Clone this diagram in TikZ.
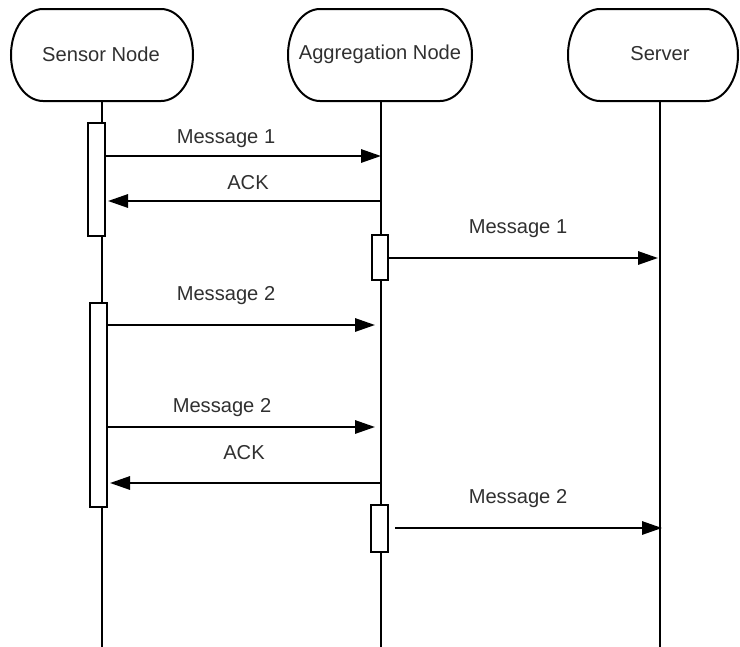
\documentclass[tikz,border=0pt]{standalone}
\usepackage{fontspec}
\setmainfont{Liberation Sans}
\usetikzlibrary{arrows.meta}
\definecolor{labelgray}{HTML}{303030}
% outline of a lifeline head: flat top and bottom, half-ellipse ends
\newcommand\headbox[2]{%
  \draw[headline] (#1+32,-9) -- (#2-32,-9)
    arc[start angle=90,end angle=-90,x radius=32,y radius=46]
    -- (#1+32,-101)
    arc[start angle=270,end angle=90,x radius=32,y radius=46] -- cycle;}
\begin{document}
\begin{tikzpicture}[x=0.75pt,y=0.75pt,
  every node/.style={font=\fontsize{15.1}{18}\selectfont,text=labelgray},
  headline/.style={line width=1.5pt,black},
  lifeline/.style={line width=1.5pt,black},
  actbox/.style={draw=black,line width=1.5pt,fill=white,inner sep=0pt,
    minimum width=12.75pt},
  msg/.style={line width=1.5pt,black,-{Triangle[length=15pt,width=10pt]}},
  msglabel/.style={inner sep=0pt}]
\useasboundingbox (0,0) rectangle (740,-647);

% lifeline heads
\headbox{11}{193}
\headbox{288}{472}
\headbox{568}{738}
\node (sensor) at (101,-54) {Sensor Node};
\node (agg) at (380,-54) {Aggregation Node};
\node (server) at (660,-54) {Server};

% lifelines
\coordinate (sensorTop) at (102,-101);
\coordinate (sensorEnd) at (102,-647);
\coordinate (aggTop) at (381,-101);
\coordinate (aggEnd) at (381,-647);
\coordinate (serverTop) at (660,-101);
\coordinate (serverEnd) at (660,-647);
\draw[lifeline] (sensorTop) -- (sensorEnd);
\draw[lifeline] (aggTop) -- (aggEnd);
\draw[lifeline] (serverTop) -- (serverEnd);

% activation bars
\node[actbox,minimum height=84.75pt] (act1) at (96.5,-179.5) {};
\node[actbox,minimum height=33.75pt,minimum width=12pt] (act2) at (380,-257.5) {};
\node[actbox,minimum height=153pt] (act3) at (98.5,-405) {};
\node[actbox,minimum height=35.25pt] (act4) at (379.5,-528.5) {};

% messages
\draw[msg] (act1.east |- 0,-156) -- (380,-156 -| aggTop);
\draw[msg] (aggTop |- 0,-201) -- (108,-201);
\draw[msg] (act2.east |- 0,-258) -- (658,-258);
\draw[msg] (act3.east |- 0,-325) -- (375,-325);
\draw[msg] (act3.east |- 0,-427) -- (375,-427);
\draw[msg] (aggTop |- 0,-483) -- (110,-483);
\coordinate (m2start) at (395,-528);
\draw[msg] (m2start) -- (662,-528);

% message labels
\node[msglabel] (l1) at (226,-139) {Message 1};
\node[msglabel] (l2) at (248,-183) {ACK};
\node[msglabel] (l3) at (518,-229) {Message 1};
\node[msglabel] (l4) at (226,-296) {Message 2};
\node[msglabel] (l5) at (222,-408) {Message 2};
\node[msglabel] (l6) at (244,-453) {ACK};
\node[msglabel] (l7) at (518,-499) {Message 2};
\end{tikzpicture}
\end{document}
